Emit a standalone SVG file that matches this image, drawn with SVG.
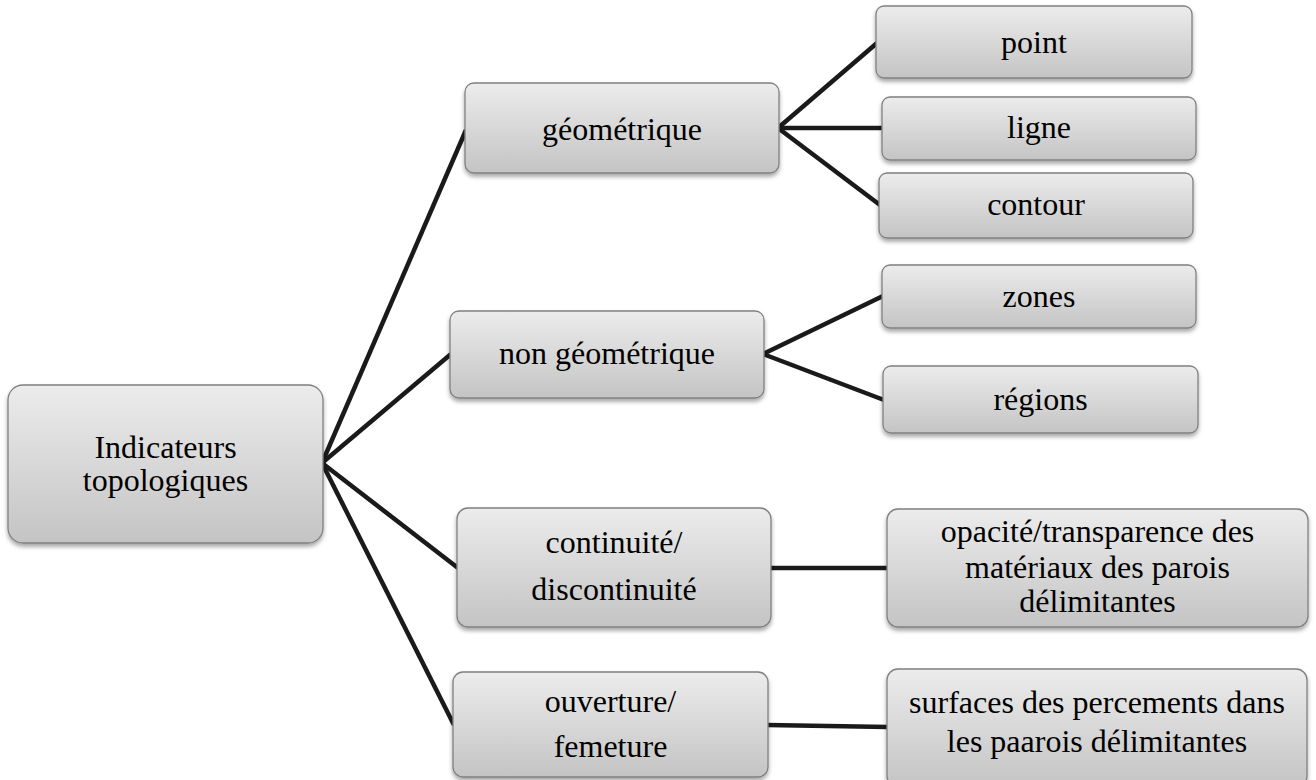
<svg xmlns="http://www.w3.org/2000/svg" width="1316" height="780" viewBox="0 0 1316 780">
<defs>
<linearGradient id="g" x1="0" y1="0" x2="0" y2="1">
<stop offset="0" stop-color="#ececec"/>
<stop offset="1" stop-color="#c4c4c4"/>
</linearGradient>
<filter id="sh" x="-10%" y="-10%" width="120%" height="130%">
<feDropShadow dx="0" dy="3" stdDeviation="2.2" flood-color="#000" flood-opacity="0.35"/>
</filter>
</defs>
<style>
.box{fill:url(#g);stroke:#808080;stroke-width:1.3;filter:url(#sh)}
.c{stroke:#1a1a1a;stroke-width:4.5;fill:none;stroke-linecap:butt}
</style>
<rect width="1316" height="780" fill="#fff"/>
<g id="connectors">
<line class="c" x1="322" y1="463" x2="466" y2="130"/>
<line class="c" x1="322" y1="463" x2="451" y2="354"/>
<line class="c" x1="322" y1="463" x2="458" y2="568"/>
<line class="c" x1="322" y1="463" x2="454" y2="725"/>
<line class="c" x1="778" y1="128" x2="877" y2="43"/>
<line class="c" x1="778" y1="128" x2="883" y2="128"/>
<line class="c" x1="778" y1="128" x2="880" y2="205"/>
<line class="c" x1="763" y1="354" x2="883" y2="296"/>
<line class="c" x1="763" y1="354" x2="884" y2="400"/>
<line class="c" x1="770" y1="568" x2="888" y2="568"/>
<line class="c" x1="767" y1="725" x2="888" y2="727"/>
</g>
<g id="root">
<rect class="box" x="8" y="385" width="315" height="158" rx="15"/>
<text font-family="Liberation Serif" font-size="32" text-anchor="middle" x="165.5" y="458">Indicateurs</text>
<text font-family="Liberation Serif" font-size="32" text-anchor="middle" x="165.5" y="491">topologiques</text>
</g>
<g id="geometrique">
<rect class="box" x="465" y="83" width="314" height="90" rx="9"/>
<text font-family="Liberation Serif" font-size="32" text-anchor="middle" x="622" y="140">géométrique</text>
</g>
<g id="non-geometrique">
<rect class="box" x="450" y="311" width="314" height="87" rx="9"/>
<text font-family="Liberation Serif" font-size="32" text-anchor="middle" x="607" y="364">non géométrique</text>
</g>
<g id="continuite">
<rect class="box" x="457" y="508" width="314" height="119" rx="11"/>
<text font-family="Liberation Serif" font-size="32" text-anchor="middle" x="614" y="553">continuité/</text>
<text font-family="Liberation Serif" font-size="32" text-anchor="middle" x="614" y="600">discontinuité</text>
</g>
<g id="ouverture">
<rect class="box" x="453" y="672" width="315" height="105" rx="10"/>
<text font-family="Liberation Serif" font-size="32" text-anchor="middle" x="610.5" y="712">ouverture/</text>
<text font-family="Liberation Serif" font-size="32" text-anchor="middle" x="610.5" y="757">femeture</text>
</g>
<g id="point">
<rect class="box" x="876" y="6" width="316" height="72" rx="8"/>
<text font-family="Liberation Serif" font-size="32" text-anchor="middle" x="1034" y="53">point</text>
</g>
<g id="ligne">
<rect class="box" x="882" y="97" width="314" height="63" rx="8"/>
<text font-family="Liberation Serif" font-size="32" text-anchor="middle" x="1039" y="138">ligne</text>
</g>
<g id="contour">
<rect class="box" x="879" y="173" width="314" height="65" rx="8"/>
<text font-family="Liberation Serif" font-size="32" text-anchor="middle" x="1036" y="215">contour</text>
</g>
<g id="zones">
<rect class="box" x="882" y="265" width="314" height="63" rx="8"/>
<text font-family="Liberation Serif" font-size="32" text-anchor="middle" x="1039" y="307">zones</text>
</g>
<g id="regions">
<rect class="box" x="883" y="366" width="315" height="67" rx="8"/>
<text font-family="Liberation Serif" font-size="32" text-anchor="middle" x="1040.5" y="410">régions</text>
</g>
<g id="opacite">
<rect class="box" x="887" y="509" width="421" height="118" rx="11"/>
<text font-family="Liberation Serif" font-size="32" text-anchor="middle" x="1097.5" y="542">opacité/transparence des</text>
<text font-family="Liberation Serif" font-size="32" text-anchor="middle" x="1097.5" y="578">matériaux des parois</text>
<text font-family="Liberation Serif" font-size="32" text-anchor="middle" x="1097.5" y="612">délimitantes</text>
</g>
<g id="surfaces">
<rect class="box" x="887" y="669" width="420" height="118" rx="11"/>
<text font-family="Liberation Serif" font-size="32" text-anchor="middle" x="1097" y="713">surfaces des percements dans</text>
<text font-family="Liberation Serif" font-size="32" text-anchor="middle" x="1097" y="752">les paarois délimitantes</text>
</g>
</svg>
